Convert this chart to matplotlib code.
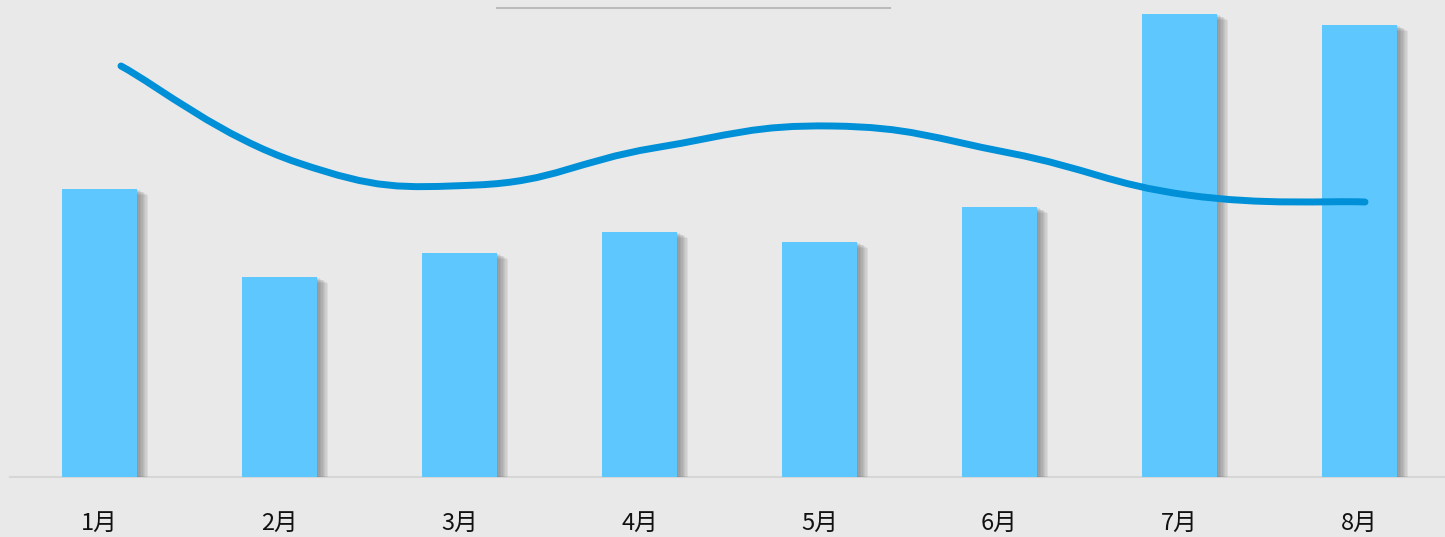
import numpy as np
import matplotlib
matplotlib.use("Agg")
import matplotlib.pyplot as plt
import matplotlib.patheffects as pe
from matplotlib.path import Path
from matplotlib.patches import PathPatch
from matplotlib.lines import Line2D

plt.rcParams['font.family'] = ['Noto Sans CJK SC', 'DejaVu Sans']

# data
months = ['1月', '2月', '3月', '4月', '5月', '6月', '7月', '8月']
bar_vals = [288, 200, 224, 245, 235, 270, 463, 452]
line_vals = [411, 314, 292, 329, 351, 324, 282, 275]

bg = '#E9E9E9'
bar_color = '#5EC8FE'
line_color = '#0090D8'

fig = plt.figure(figsize=(14.45, 5.37), dpi=100, facecolor=bg)
ax = fig.add_axes([9.5 / 1445, 60 / 537, 1440 / 1445, 477 / 537])
ax.set_facecolor(bg)

x = np.arange(len(months))
# soft shadow: stacked offset copies
shadow = [pe.SimplePatchShadow(offset=(k, -0.5 * k), shadow_rgbFace='#555555', alpha=0.09)
          for k in range(1, 9)]
bars = ax.bar(x, bar_vals, width=75 / 180, color=bar_color, zorder=2)
for b in bars:
    b.set_path_effects(shadow + [pe.Normal()])

ax.set_xlim(-0.5, 7.5)
ax.set_ylim(0, 477)
ax.set_xticks(x)
ax.set_xticklabels(months, fontsize=17, color='#111111')
ax.tick_params(axis='x', length=0, pad=25)
ax.set_yticks([])
for s in ['top', 'right', 'left']:
    ax.spines[s].set_visible(False)
ax.spines['bottom'].set_color('#D6D6D6')
ax.spines['bottom'].set_linewidth(1.5)
ax.spines['bottom'].set_zorder(1)

# line on its own axis (different horizontal span)
ax2 = fig.add_axes([121 / 1445, 60 / 537, (1365 - 121) / 1445, 477 / 537])
ax2.set_xlim(0, len(line_vals) - 1)
ax2.set_ylim(0, 477)
ax2.axis('off')

pts = np.column_stack([np.arange(len(line_vals)), line_vals]).astype(float)
verts = [pts[0]]
codes = [Path.MOVETO]
s = 0.22
n = len(pts)
for i in range(n - 1):
    p0 = pts[max(i - 1, 0)]
    p1 = pts[i]
    p2 = pts[i + 1]
    p3 = pts[min(i + 2, n - 1)]
    c1 = p1 + s * (p2 - p0)
    c2 = p2 - s * (p3 - p1)
    verts += [c1, c2, p2]
    codes += [Path.CURVE4] * 3
path = Path(verts, codes)
ax2.add_patch(PathPatch(path, facecolor='none', edgecolor=line_color, lw=5,
                        capstyle='round', joinstyle='round', zorder=3, clip_on=False))

fig.add_artist(Line2D([497 / 1445, 890 / 1445], [1 - 7.5 / 537] * 2,
                      color='#BBBBBB', lw=1.5))

fig.savefig('out.png', dpi=100, facecolor=bg)
